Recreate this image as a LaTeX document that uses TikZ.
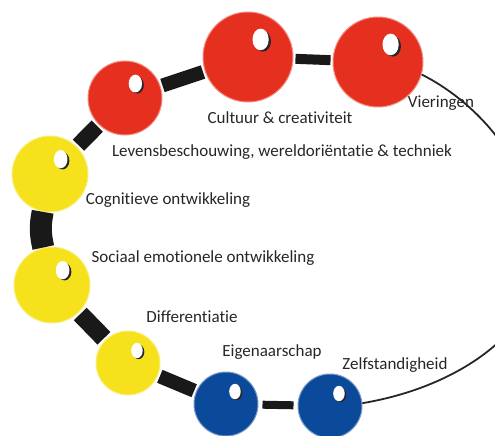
\documentclass[tikz,border=0pt]{standalone}
\usepackage{fontspec}
\setmainfont{Carlito}[Ligatures=NoCommon]
\usepackage{tikz}
\usetikzlibrary{calc}

\definecolor{beadred}{HTML}{E5301F}
\definecolor{beadyellow}{HTML}{F6E21C}
\definecolor{beadblue}{HTML}{0B4A9A}

\begin{document}
\begin{tikzpicture}[x=1pt, y=-1pt,
  bead/.style={circle, fill=#1, draw=#1!55!white, line width=1pt, inner sep=0pt},
  bar/.style={line width=#1, black!90, shorten <=2pt, shorten >=2pt},
  thread/.style={line width=1.8pt, black!85},
  lbl/.style={font=\fontsize{17}{20}\selectfont, text=black!85, inner sep=0pt}]

\useasboundingbox (0,0) rectangle (495,436);
\clip (0,0) rectangle (495,436);

% beads
\node[bead=beadred, minimum size=90pt] (vieringen) at (378,62) {};
\node[bead=beadred, minimum size=90pt] (cultuur) at (248,57) {};
\node[bead=beadred, minimum size=74pt] (levens) at (125,98) {};
\node[bead=beadyellow, minimum size=76pt] (cognitief) at (50,174) {};
\node[bead=beadyellow, minimum size=76pt] (sociaal) at (52,285) {};
\node[bead=beadyellow, minimum size=64pt] (differentiatie) at (128,363) {};
\node[bead=beadblue, minimum size=64pt] (eigenaar) at (226,404) {};
\node[bead=beadblue, minimum size=64pt] (zelf) at (330,406) {};

% glints
\foreach \n/\r in {vieringen/45, cultuur/45, levens/37, cognitief/38,
    sociaal/38, differentiatie/32, eigenaar/32, zelf/32} {
  \fill[black!85] ($(\n)+(0.33*\r,-0.35*\r)$) ellipse ({0.18*\r*1pt} and {0.23*\r*1pt});
  \fill[white] ($(\n)+(0.28*\r,-0.39*\r)$) ellipse ({0.18*\r*1pt} and {0.24*\r*1pt});
}

% bars between the beads
\draw[bar=10pt] (cultuur) -- (vieringen);
\draw[bar=14pt] (levens) -- (cultuur);
\draw[bar=16pt] (cognitief) -- (levens);
\draw[bar=22pt, shorten <=0pt, shorten >=0pt] (cognitief) to[bend right=12] (sociaal);
\draw[bar=18pt] (sociaal) -- (differentiatie);
\draw[bar=14pt] (differentiatie) -- (eigenaar);
\draw[bar=8pt, shorten <=4pt, shorten >=4pt] (eigenaar) -- (zelf);

% thread round the right side
\coordinate (farright) at (540,262);
\draw[thread] (vieringen.-16) .. controls (480,104) and (540,170) .. (farright)
  .. controls (540,322) and (470,385) .. (zelf.5);

% labels
\node[lbl] (vieringen-label) at (441,103) {Vieringen};
\node[lbl] (cultuur-label) at (280,118) {Cultuur \& creativiteit};
\node[lbl] (levens-label) at (282,152) {Levensbeschouwing, wereldoriëntatie \& techniek};
\node[lbl] (cognitief-label) at (168,200) {Cognitieve ontwikkeling};
\node[lbl] (sociaal-label) at (203,258) {Sociaal emotionele ontwikkeling};
\node[lbl] (differentiatie-label) at (192,317) {Differentiatie};
\node[lbl] (eigenaar-label) at (272,352) {Eigenaarschap};
\node[lbl] (zelf-label) at (395,365) {Zelfstandigheid};
\end{tikzpicture}
\end{document}
